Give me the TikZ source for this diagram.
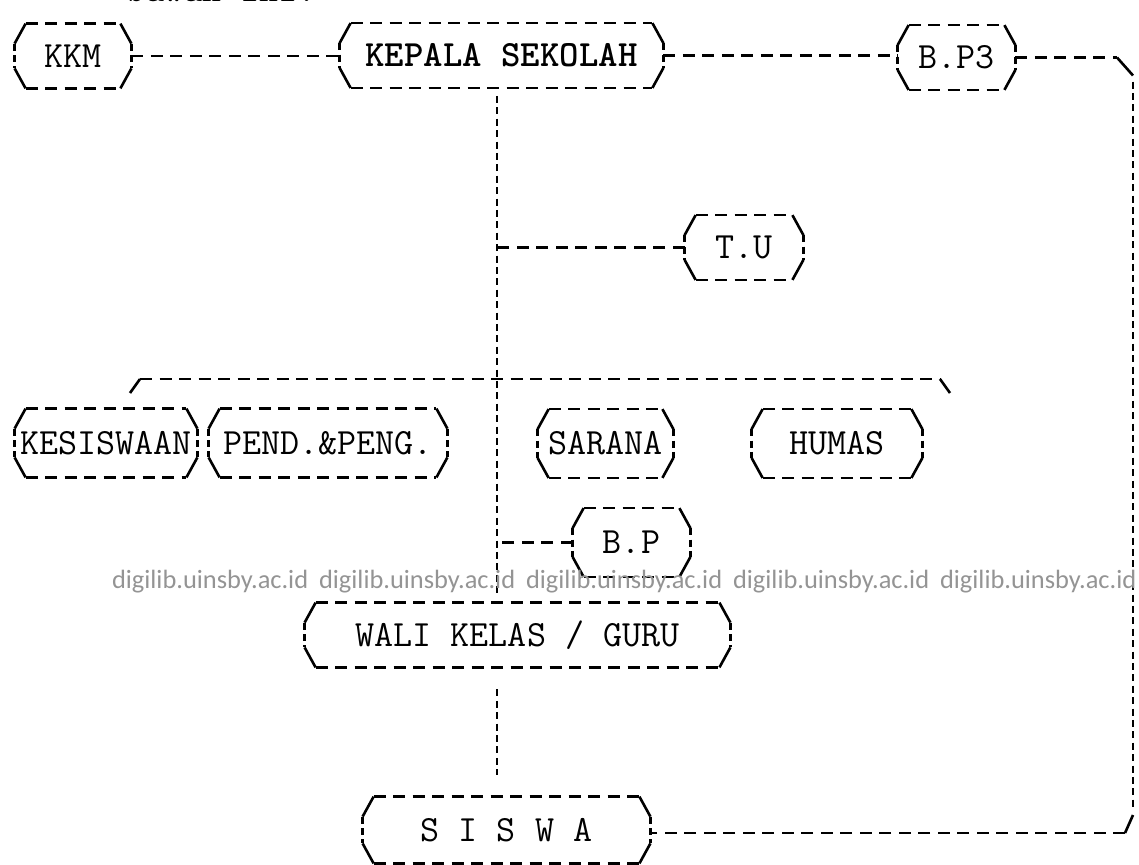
\documentclass[tikz,border=0pt]{standalone}
\usepackage{fontspec}
\newfontfamily\wmfont{Carlito}
\tikzset{
  box/.style={rectangle,inner sep=0pt,minimum height=32pt,
    font=\fontsize{18.5}{20}\ttfamily\addfontfeatures{FakeBold=3}},
  hline/.style={line width=1.3pt,dash pattern=on 6pt off 3.75pt},
  vline/.style={line width=1.3pt,dash pattern=on 3.5pt off 2.2pt},
  corner/.style={line width=1.3pt},
  wmark/.style={anchor=west,text=black!42,font=\wmfont\fontsize{13.2}{15}\selectfont}
}
\begin{document}
\begin{tikzpicture}[x=0.5pt,y=-0.5pt]
			
			\clip (0,0) rectangle (1139,864);
			\def\cx{5.5pt}
			\def\cy{10pt}
			\node[anchor=base west,inner sep=0pt,font=\fontsize{18.5}{20}\ttfamily\addfontfeatures{FakeBold=3}] (judul) at (126,1) {bawah ini:};
			% kotak-kotak
			\node[box,minimum width=58pt] (kkm) at (73,56) {KKM};
			\node[box,minimum width=161.5pt,font=\fontsize{18.5}{20}\ttfamily\bfseries] (kepsek) at (501.5,55.5) {KEPALA SEKOLAH};
			\node[box,minimum width=58.5pt] (bpiii) at (956.5,57.5) {B.P3};
			\node[box,minimum width=59pt] (tu) at (744,247.5) {T.U};
			\node[box,minimum width=91pt,minimum height=34pt] (kesis) at (106,443) {KESISWAAN};
			\node[box,minimum width=119pt,minimum height=34pt] (pend) at (328,443) {PEND.\&PENG.};
			\node[box,minimum width=67.5pt,minimum height=34pt] (sarana) at (605.5,443.5) {SARANA};
			\node[box,minimum width=85pt,minimum height=34pt] (humas) at (837,443.5) {HUMAS};
			\node[box,minimum width=58.5pt,minimum height=34pt] (bp) at (631.5,542.5) {B.P};
			\node[box,minimum width=212.5pt] (wali) at (517.5,635) {WALI KELAS / GURU};
			\node[box,minimum width=143.5pt,minimum height=33pt] (siswa) at (506.5,830) {S I S W A};
			\foreach \n in {kkm,kepsek,bpiii,tu,kesis,pend,sarana,humas,bp,wali,siswa}{
				\draw[hline] ([xshift=\cx]\n.north west)--([xshift=-\cx]\n.north east);
				\draw[hline] ([xshift=\cx]\n.south west)--([xshift=-\cx]\n.south east);
				\draw[vline] ([yshift=-\cy]\n.north west)--([yshift=\cy]\n.south west);
				\draw[vline] ([yshift=-\cy]\n.north east)--([yshift=\cy]\n.south east);
				\draw[corner] ([yshift=-\cy]\n.north west)--([xshift=\cx]\n.north west);
				\draw[corner] ([yshift=-\cy]\n.north east)--([xshift=-\cx]\n.north east);
				\draw[corner] ([yshift=\cy]\n.south west)--([xshift=\cx]\n.south west);
				\draw[corner] ([yshift=\cy]\n.south east)--([xshift=-\cx]\n.south east);
			}
			% garis
			\coordinate (tk) at (497,0);
			\coordinate (lt) at (1133,57.5);
			\coordinate (lb) at (1133,833);
			\coordinate (hl) at (140,379);
			\coordinate (hr) at (940,379);
			\draw[hline] (kkm.east)--(kkm.east -| kepsek.west);
			\draw[hline] (kepsek.east)--(kepsek.east -| bpiii.west);
			\draw[hline] (bpiii.east)--([xshift=-8pt]lt);
			\draw[corner] ([xshift=-8pt]lt)--([yshift=-9pt]lt);
			\draw[vline] ([yshift=-12pt]lt)--([yshift=12pt]lb);
			\draw[corner] ([yshift=9pt]lb)--([xshift=-4pt]lb);
			\draw[hline] ([xshift=-4pt]lb)--(siswa.east |- lb);
			\draw[vline,shorten <=4pt,shorten >=5pt] (kepsek.south -| tk)--(wali.north -| tk);
			\draw[hline] (tu.west)--(tu.west -| tk);
			\draw[hline] (bp.west)--(bp.west -| tk);
			\draw[hline] (hl)--(hr);
			\draw[corner] (hl)--([xshift=-5pt,yshift=-7pt]hl);
			\draw[corner] (hr)--([xshift=5pt,yshift=-7pt]hr);
			\draw[vline,shorten <=11pt,shorten >=11pt] (wali.south -| tk)--(siswa.north -| tk);
			\foreach \i in {0,...,4}\node[wmark] (wm\i) at (105+207*\i,582) {digilib.uinsby.ac.id};
			
		\end{tikzpicture}
\end{document}
